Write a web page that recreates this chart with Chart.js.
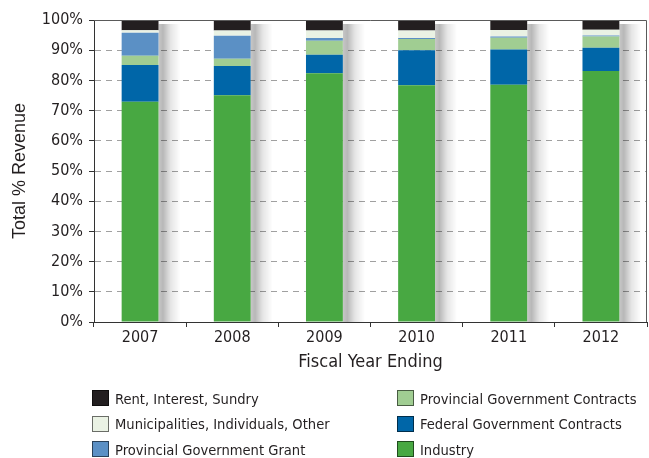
<!DOCTYPE html>
<html>
<head>
<meta charset="utf-8">
<script src="https://cdn.jsdelivr.net/npm/chart.js@4.4.1/dist/chart.umd.min.js"></script>
<style>
  html, body { margin: 0; padding: 0; background: #fff; }
  #wrap { position: relative; width: 649px; height: 458px; }
  #legend {
    position: absolute; left: 92px; top: 390px;
    display: grid; grid-template-columns: 305px 240px; grid-auto-flow: column;
    grid-template-rows: 25.7px 25.7px 25.7px;
    font-family: "DejaVu Sans Condensed", "DejaVu Sans", sans-serif; font-stretch: condensed;
    font-size: 14.6px; color: #231f20;
  }
  .item { display: flex; align-items: center; height: 16px; white-space: nowrap; }
  .box { width: 15px; height: 14px; border: 1px solid rgba(0,0,0,0.55); margin-right: 6px; flex: none; }
</style>
</head>
<body>
<div id="wrap">
  <canvas id="chart" width="649" height="458"></canvas>
  <div id="legend"></div>
</div>
<script>
const years = ['2007', '2008', '2009', '2010', '2011', '2012'];
const industry = [72.9, 75.1, 82.4, 78.4, 78.6, 83.1];
const federalContracts = [12.2, 9.7, 6.1, 11.6, 11.6, 7.7];
const provincialContracts = [3.1, 2.4, 4.6, 3.7, 3.9, 3.7];
const provincialGrant = [7.6, 7.6, 0.9, 0.3, 0.4, 0.4];
const municipalities = [0.8, 1.7, 2.5, 2.5, 2.2, 1.9];
const rentInterest = [3.4, 3.5, 3.5, 3.5, 3.3, 3.2];
const yTicks = [0, 10, 20, 30, 40, 50, 60, 70, 80, 90, 100];

const series = [
  { label: 'Industry', data: industry, color: '#48a842' },
  { label: 'Federal Government Contracts', data: federalContracts, color: '#0066a8' },
  { label: 'Provincial Government Contracts', data: provincialContracts, color: '#a0cd92' },
  { label: 'Provincial Government Grant', data: provincialGrant, color: '#5b90c5' },
  { label: 'Municipalities, Individuals, Other', data: municipalities, color: '#eaf2e4' },
  { label: 'Rent, Interest, Sundry', data: rentInterest, color: '#231f20' },
];

// legend order: left column top->bottom, then right column
const legendOrder = [5, 4, 3, 2, 1, 0];
const legendEl = document.getElementById('legend');
legendOrder.forEach(i => {
  const item = document.createElement('div');
  item.className = 'item';
  const box = document.createElement('span');
  box.className = 'box';
  box.style.background = series[i].color;
  item.appendChild(box);
  item.appendChild(document.createTextNode(series[i].label));
  legendEl.appendChild(item);
});

const ink = '#231f20';
const condensed = '"DejaVu Sans Condensed", "DejaVu Sans", sans-serif';

// soft shadow to the right of each bar stack
const barShadow = {
  id: 'barShadow',
  beforeDatasetsDraw(chart) {
    const ctx = chart.ctx;
    const meta = chart.getDatasetMeta(series.length - 1);
    const base = chart.scales.y.getPixelForValue(0);
    meta.data.forEach(el => {
      const p = el.getProps(['x', 'y', 'width'], true);
      const x0 = p.x + p.width / 2;
      const w = 22;
      const g = ctx.createLinearGradient(x0, 0, x0 + w, 0);
      g.addColorStop(0, 'rgba(0,0,0,0.22)');
      g.addColorStop(0.2, 'rgba(0,0,0,0.28)');
      g.addColorStop(0.55, 'rgba(0,0,0,0.1)');
      g.addColorStop(1, 'rgba(0,0,0,0)');
      ctx.save();
      ctx.fillStyle = g;
      ctx.fillRect(x0, p.y + 4, w, base - p.y - 4);
      ctx.restore();
    });
  }
};

// top and right frame lines
const frame = {
  id: 'frame',
  afterDatasetsDraw(chart) {
    const { ctx, chartArea: a } = chart;
    ctx.save();
    ctx.strokeStyle = '#5a5a5a';
    ctx.lineWidth = 1;
    ctx.beginPath();
    ctx.moveTo(a.left, Math.round(a.top) + 0.5);
    ctx.lineTo(Math.round(a.right) - 0.5, Math.round(a.top) + 0.5);
    ctx.lineTo(Math.round(a.right) - 0.5, a.bottom);
    ctx.stroke();
    ctx.restore();
  }
};

new Chart(document.getElementById('chart'), {
  type: 'bar',
  data: {
    labels: years,
    datasets: series.map(s => ({
      label: s.label,
      data: s.data,
      backgroundColor: s.color,
      borderWidth: 0,
    }))
  },
  options: {
    responsive: false,
    animation: false,
    layout: { padding: { left: 0, right: 2, top: 20, bottom: 80 } },
    plugins: {
      legend: { display: false },
      tooltip: { enabled: false },
    },
    datasets: {
      bar: { barPercentage: 0.4, categoryPercentage: 1.0 }
    },
    scales: {
      x: {
        stacked: true,
        afterFit(scale) { scale.height = 56; },
        grid: { offset: true, drawOnChartArea: false, tickLength: 5, tickColor: '#333' },
        border: { color: '#333', width: 1 },
        ticks: { color: ink, font: { family: condensed, size: 16 }, padding: 1 },
        title: {
          display: true, text: 'Fiscal Year Ending', color: ink,
          font: { family: condensed, size: 18 },
          padding: { top: 0, bottom: 5 }
        }
      },
      y: {
        stacked: true,
        min: 0, max: 100,
        afterFit(scale) { scale.width = 94; },
        afterBuildTicks(scale) { scale.ticks = yTicks.map(v => ({ value: v })); },
        grid: {
          color: c => (c.tick && (c.tick.value === 0 || c.tick.value === 100)) ? 'rgba(0,0,0,0)' : '#a0a0a0',
          tickColor: '#333', tickLength: 5, lineWidth: 1
        },
        border: { color: '#333', width: 1, dash: [6, 5] },
        ticks: {
          color: ink, font: { family: condensed, size: 16 }, padding: 6,
          callback: v => v + '%'
        },
        title: {
          display: true, text: 'Total % Revenue', color: ink,
          font: { family: 'Liberation Sans', size: 18 },
          padding: { top: 9, bottom: 9 }
        }
      }
    }
  },
  plugins: [barShadow, frame]
});
</script>
</body>
</html>
